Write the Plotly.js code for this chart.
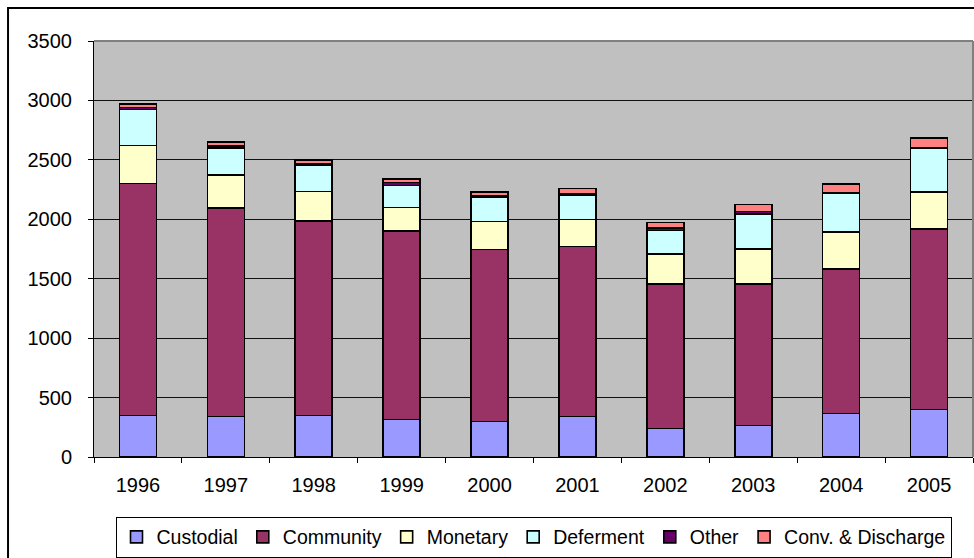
<!DOCTYPE html>
<html>
<head>
<meta charset="utf-8">
<script src="https://cdn.plot.ly/plotly-3.0.1.min.js"></script>
<style>
html,body{margin:0;padding:0;background:#fff;}
#chart{width:974px;height:558px;}
</style>
</head>
<body>
<div id="chart"></div>
<script>
var years = ['1996','1997','1998','1999','2000','2001','2002','2003','2004','2005'];
var custodial = [350,340,350,315,300,340,240,265,365,400];
var community = [1950,1755,1635,1585,1445,1430,1215,1190,1215,1518];
var monetary  = [322,280,250,200,237,227,255,295,314,314];
var deferment = [303,225,222,185,200,208,197,294,322,365];
var other     = [17,19,8,25,16,8,22,20,6,3];
var conv      = [30,29,34,28,34,47,45,62,76,84];

var seriesNames = ['Custodial','Community','Monetary','Deferment','Other','Conv. & Discharge'];
var seriesColors = ['#9999FF','#993366','#FFFFCC','#CCFFFF','#660066','#FF8080'];
var seriesData = [custodial, community, monetary, deferment, other, conv];

var traces = seriesData.map(function(d, i){
  return {
    type: 'bar',
    name: seriesNames[i],
    x: years,
    y: d,
    marker: {color: seriesColors[i], line: {color: '#000', width: 1.6}},
    hoverinfo: 'x+y+name'
  };
});

var fontFam = 'Arial, "Liberation Sans", sans-serif';

var layout = {
  width: 974,
  height: 558,
  barmode: 'stack',
  bargap: 0.58,
  paper_bgcolor: '#fff',
  plot_bgcolor: '#C0C0C0',
  margin: {l: 94, r: 1, t: 41, b: 101, autoexpand: false},
  font: {family: fontFam, size: 19, color: '#000'},
  showlegend: true,
  legend: {
    orientation: 'h',
    x: 0.5, xanchor: 'center',
    yref: 'container',
    y: 0.074, yanchor: 'top',
    bgcolor: '#fff',
    bordercolor: '#000',
    borderwidth: 1,
    font: {family: fontFam, size: 19.5, color: '#000'},
    traceorder: 'normal',
    itemwidth: 30
  },
  xaxis: {
    type: 'category',
    showgrid: false,
    showline: true,
    linecolor: '#000',
    linewidth: 1,
    ticks: 'outside',
    tickson: 'boundaries',
    ticklen: 5,
    tickcolor: '#000',
    ticklabelstandoff: 10,
    tickfont: {family: fontFam, size: 20, color: '#000'}
  },
  yaxis: {
    range: [0, 3500],
    dtick: 500,
    tick0: 0,
    showgrid: true,
    gridcolor: '#111',
    gridwidth: 1,
    zeroline: false,
    showline: true,
    linecolor: '#000',
    linewidth: 1,
    ticks: 'outside',
    ticklen: 5,
    tickcolor: '#000',
    ticklabelstandoff: 12,
    tickfont: {family: fontFam, size: 20, color: '#000'}
  },
  shapes: [
    {type: 'line', xref: 'paper', yref: 'paper', x0: 0, x1: 1, y0: 1, y1: 1, line: {color: '#808080', width: 2}},
    {type: 'line', xref: 'paper', yref: 'paper', x0: 1, x1: 1, y0: 0, y1: 1, line: {color: '#808080', width: 2}},
    {type: 'rect', xref: 'paper', yref: 'paper', x0: -0.0978, x1: 1.05, y0: -0.3, y1: 1.0793, line: {color: '#000', width: 2}, fillcolor: 'rgba(0,0,0,0)'}
  ]
};

Plotly.newPlot('chart', traces, layout, {displayModeBar: false, staticPlot: true});
</script>
</body>
</html>
